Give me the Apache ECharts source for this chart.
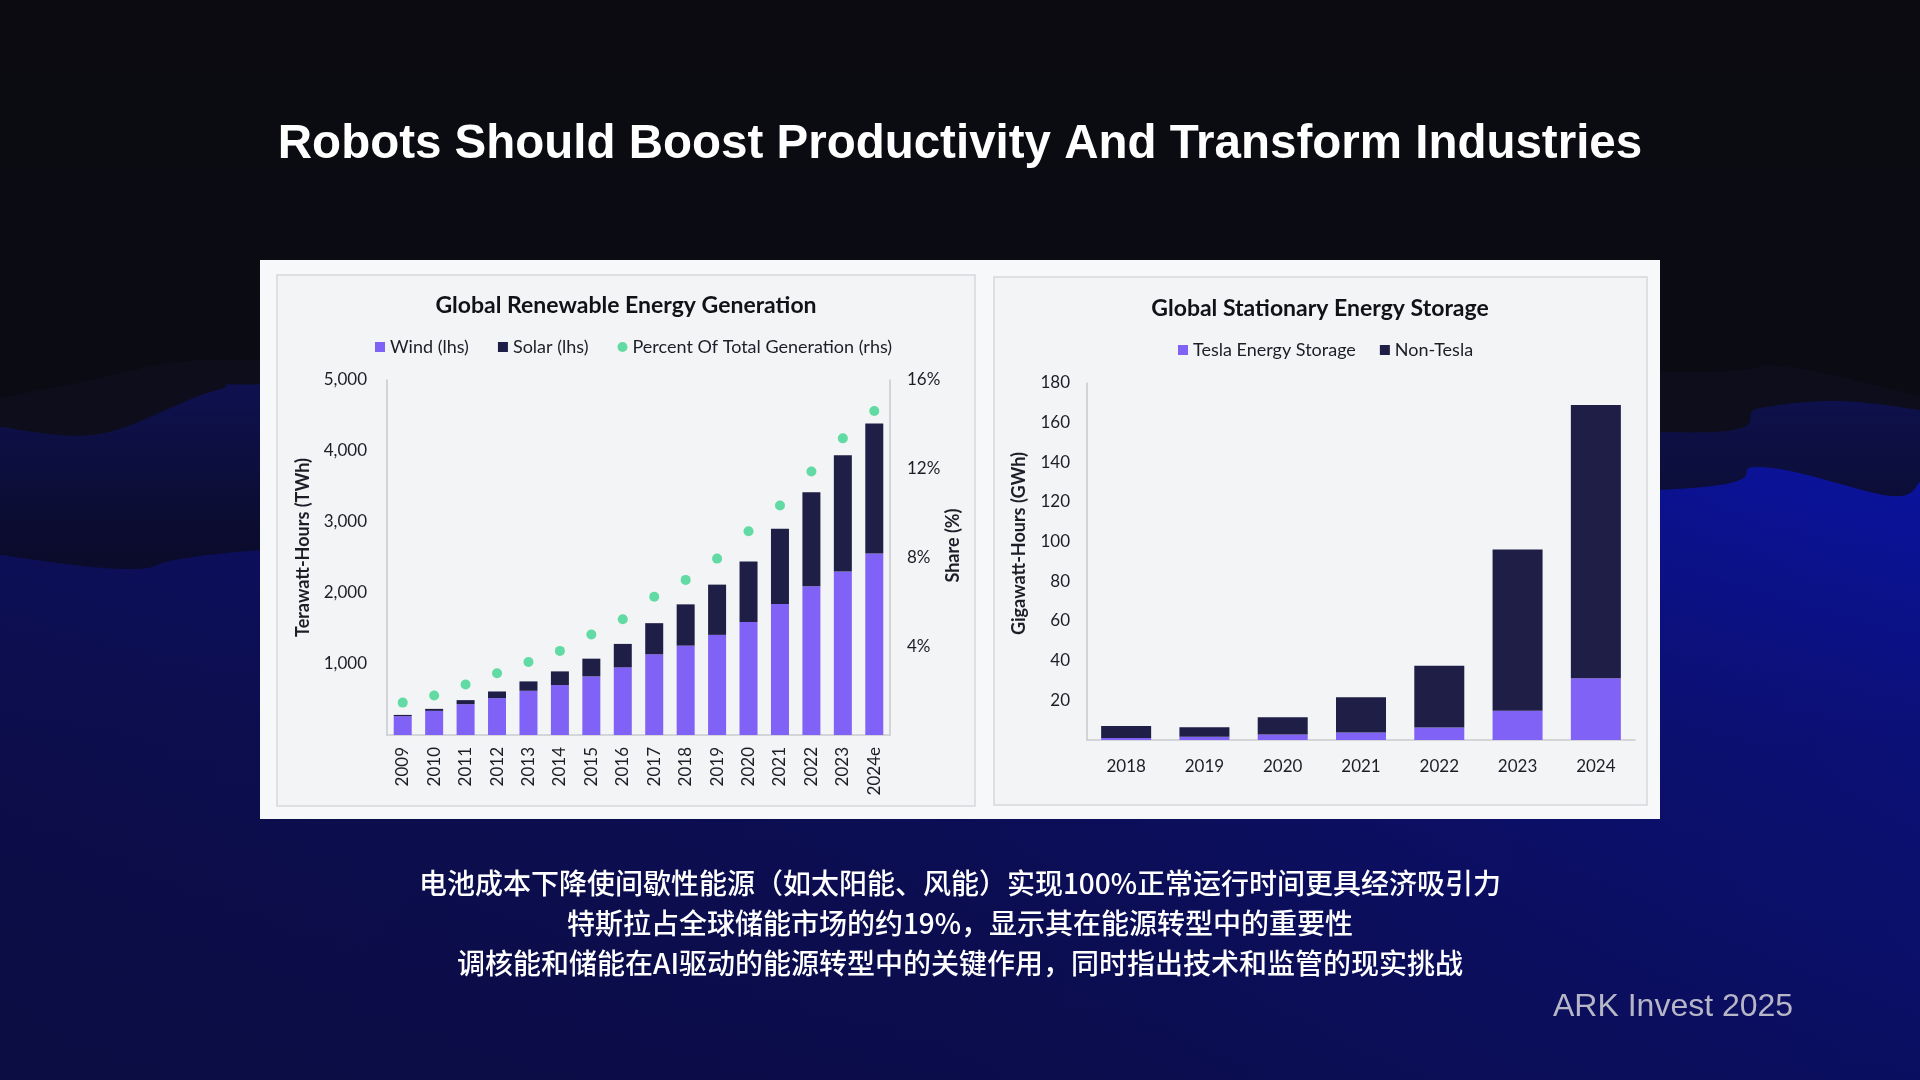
<!DOCTYPE html>
<html>
<head>
<meta charset="utf-8">
<style>
html,body{margin:0;padding:0;background:#0b0b12;}
#c{width:1920px;height:1080px;}
</style>
<script src="https://cdn.jsdelivr.net/npm/echarts@6/dist/echarts.min.js"></script>
</head>
<body>
<div id="c"></div>
<script>
// ---------- data ----------
const genYears = ['2009','2010','2011','2012','2013','2014','2015','2016','2017','2018','2019','2020','2021','2022','2023','2024e'];
const windTWh  = [264, 340, 434, 519, 623, 703, 825, 953, 1137, 1259, 1410, 1590, 1844, 2094, 2302, 2557];
const solarTWh = [19, 28, 57, 94, 132, 193, 250, 330, 438, 581, 708, 853, 1062, 1326, 1637, 1830];
const sharePct = [1.46, 1.78, 2.28, 2.78, 3.29, 3.79, 4.53, 5.22, 6.23, 6.99, 7.95, 9.18, 10.34, 11.88, 13.37, 14.6];

const storYears = ['2018','2019','2020','2021','2022','2023','2024'];
const teslaGWh    = [1.0, 1.7, 2.8, 3.8, 6.3, 14.8, 31.1];
const nonTeslaGWh = [6.1, 4.7, 8.7, 17.8, 31.1, 81.2, 137.8];

const genAxis   = {min: 0, max: 5000, interval: 1000};
const shareAxis = {min: 0, max: 16, interval: 4};
const storAxis  = {min: 0, max: 180, interval: 20};

const mainTitle = 'Robots Should Boost Productivity And Transform Industries';
const notes = [
  '电池成本下降使间歇性能源（如太阳能、风能）实现100%正常运行时间更具经济吸引力',
  '特斯拉占全球储能市场的约19%，显示其在能源转型中的重要性',
  '调核能和储能在AI驱动的能源转型中的关键作用，同时指出技术和监管的现实挑战'
];
const footer = 'ARK Invest 2025';

// ---------- style ----------
const PURPLE = '#8062f7', NAVY = '#1f1e46', GREEN = '#3dd38f';
const TXT = '#1d1d28', AXIS = '#c9cad0';
const F = 'Lato, "Noto Sans", sans-serif';

function lin(x2, y2, stops) {
  return {type: 'linear', x: 0, y: 0, x2: x2, y2: y2, global: false,
          colorStops: stops.map(s => ({offset: s[0], color: s[1]}))};
}
// decorative background wave: smooth top edge through given knots, closed to the bottom
function wave(knots) {
  const pts = [];
  for (let i = 0; i < knots.length - 1; i++) {
    const p0 = knots[Math.max(0, i - 1)], p1 = knots[i], p2 = knots[i + 1], p3 = knots[Math.min(knots.length - 1, i + 2)];
    for (let k = 0; k < 12; k++) {
      const t = k / 12, t2 = t * t, t3 = t2 * t;
      const f = (a, b, c, d) => 0.5 * ((2 * b) + (-a + c) * t + (2 * a - 5 * b + 4 * c - d) * t2 + (-a + 3 * b - 3 * c + d) * t3);
      pts.push([f(p0[0], p1[0], p2[0], p3[0]), f(p0[1], p1[1], p2[1], p3[1])]);
    }
  }
  pts.push(knots[knots.length - 1]);
  pts.push([1920, 1080], [0, 1080]);
  return pts;
}

const chart = echarts.init(document.getElementById('c'), null, {renderer: 'canvas'});

const axisLabel = {color: TXT, fontFamily: F, fontSize: 17};
const nameStyle = (shift) => ({color: TXT, fontFamily: F, fontSize: 18, fontWeight: 'bold', padding: [0, 0, 0, shift]});

const option = {
  animation: false,
  backgroundColor: '#0b0b12',
  graphic: [
    // background
    {type: 'rect', z: -30, shape: {x: 0, y: 0, width: 1920, height: 1080},
     style: {fill: lin(0, 1, [[0, '#0b0b11'], [0.45, '#0b0b14'], [1, '#0b0b2a']])}},
    {type: 'polygon', z: -29, shape: {points: wave([[0, 398], [90, 380], [180, 362], [300, 360], [960, 360], [1660, 372], [1780, 366], [1920, 396]])},
     style: {fill: '#0d0d1c'}},
    {type: 'polygon', z: -28, shape: {points: wave([[0, 427], [100, 434], [217, 390], [300, 384], [960, 380], [1660, 432], [1760, 408], [1840, 401], [1920, 410]])},
     style: {fill: lin(0, 1, [[0, '#0e1150'], [0.25, '#0b0c2c'], [1, '#0b0b2a']])}},
    {type: 'polygon', z: -27, shape: {points: wave([[0, 555], [133, 569], [260, 550], [960, 500], [1660, 490], [1760, 467], [1890, 496], [1920, 482]])},
     style: {fill: lin(1, 0, [[0, '#0d0f5c'], [0.5, '#0c0f70'], [1, '#0b13a0']])}},
    {type: 'rect', z: -26, shape: {x: 0, y: 460, width: 1920, height: 620},
     style: {fill: lin(0, 1, [[0, 'rgba(11,11,40,0)'], [0.45, 'rgba(11,11,42,0.35)'], [1, 'rgba(11,11,44,0.55)']])}},
    // panels
    {type: 'rect', z: -10, shape: {x: 260, y: 260, width: 1400, height: 559}, style: {fill: '#f7f8fa'}},
    {type: 'rect', z: -9, shape: {x: 277, y: 275, width: 698, height: 531}, style: {fill: '#f3f4f6', stroke: '#d6d7dd', lineWidth: 1.5}},
    {type: 'rect', z: -9, shape: {x: 994, y: 277, width: 653, height: 528}, style: {fill: '#f3f4f6', stroke: '#d6d7dd', lineWidth: 1.5}},
    // texts
    {type: 'text', z: 10, x: 960, y: 145, style: {text: mainTitle, fill: '#ffffff', font: 'bold 47.5px "Liberation Sans", Arial, sans-serif', textAlign: 'center', textVerticalAlign: 'middle'}},
    {type: 'text', z: 10, x: 626, y: 306, style: {text: 'Global Renewable Energy Generation', fill: '#111118', font: 'bold 23px ' + F, textAlign: 'center', textVerticalAlign: 'middle'}},
    {type: 'text', z: 10, x: 1320, y: 309, style: {text: 'Global Stationary Energy Storage', fill: '#111118', font: 'bold 23px ' + F, textAlign: 'center', textVerticalAlign: 'middle'}},
    {type: 'text', z: 10, x: 960, y: 883, style: {text: notes[0], fill: '#ffffff', font: '500 28px "Noto Sans CJK SC", sans-serif', textAlign: 'center', textVerticalAlign: 'middle'}},
    {type: 'text', z: 10, x: 960, y: 923, style: {text: notes[1], fill: '#ffffff', font: '500 28px "Noto Sans CJK SC", sans-serif', textAlign: 'center', textVerticalAlign: 'middle'}},
    {type: 'text', z: 10, x: 960, y: 963, style: {text: notes[2], fill: '#ffffff', font: '500 28px "Noto Sans CJK SC", sans-serif', textAlign: 'center', textVerticalAlign: 'middle'}},
    {type: 'text', z: 10, x: 1553, y: 1007, style: {text: footer, fill: '#b6b6c6', font: '32px "Liberation Sans", Arial, sans-serif', textAlign: 'left', textVerticalAlign: 'middle'}}
  ],
  legend: [
    {left: 370, top: 333, itemWidth: 10, itemHeight: 10, itemGap: 29, selectedMode: false,
     textStyle: {color: TXT, fontFamily: F, fontSize: 18},
     data: [{name: 'Wind (lhs)', icon: 'rect'}, {name: 'Solar (lhs)', icon: 'rect'}, {name: 'Percent Of Total Generation (rhs)', icon: 'circle'}]},
    {left: 1173, top: 336, itemWidth: 10, itemHeight: 10, itemGap: 24, selectedMode: false,
     textStyle: {color: TXT, fontFamily: F, fontSize: 18},
     data: [{name: 'Tesla Energy Storage', icon: 'rect'}, {name: 'Non-Tesla', icon: 'rect'}]}
  ],
  grid: [
    {left: 387, right: 1030, top: 380, bottom: 345},
    {left: 1087, right: 285, top: 383, bottom: 340}
  ],
  xAxis: [
    {type: 'category', gridIndex: 0, data: genYears,
     axisLine: {lineStyle: {color: AXIS, width: 1.5}}, axisTick: {show: false},
     axisLabel: Object.assign({}, axisLabel, {rotate: 90, margin: 12, interval: 0})},
    {type: 'category', gridIndex: 1, data: storYears,
     axisLine: {lineStyle: {color: AXIS, width: 1.5}}, axisTick: {show: false},
     axisLabel: Object.assign({}, axisLabel, {margin: 18, interval: 0})}
  ],
  yAxis: [
    {type: 'value', gridIndex: 0, min: genAxis.min, max: genAxis.max, interval: genAxis.interval,
     name: 'Terawatt-Hours (TWh)', nameLocation: 'middle', nameRotate: 90, nameGap: 75,
     nameTextStyle: nameStyle(20),
     axisLine: {show: true, lineStyle: {color: AXIS, width: 1.5}}, axisTick: {show: false}, splitLine: {show: false},
     axisLabel: Object.assign({}, axisLabel, {margin: 20, formatter: v => v === 0 ? '' : v.toLocaleString('en-US')})},
    {type: 'value', gridIndex: 0, position: 'right', min: shareAxis.min, max: shareAxis.max, interval: shareAxis.interval,
     name: 'Share (%)', nameLocation: 'middle', nameRotate: 90, nameGap: 53,
     nameTextStyle: nameStyle(24),
     axisLine: {show: true, lineStyle: {color: AXIS, width: 1.5}}, axisTick: {show: false}, splitLine: {show: false},
     axisLabel: Object.assign({}, axisLabel, {margin: 17, formatter: v => v === 0 ? '' : v + '%'})},
    {type: 'value', gridIndex: 1, min: storAxis.min, max: storAxis.max, interval: storAxis.interval,
     name: 'Gigawatt-Hours (GWh)', nameLocation: 'middle', nameRotate: 90, nameGap: 59,
     nameTextStyle: nameStyle(36),
     axisLine: {show: true, lineStyle: {color: AXIS, width: 1.5}}, axisTick: {show: false}, splitLine: {show: false},
     axisLabel: Object.assign({}, axisLabel, {margin: 17, formatter: v => v === 0 ? '' : String(v)})}
  ],
  series: [
    {name: 'Wind (lhs)', type: 'bar', stack: 'gen', xAxisIndex: 0, yAxisIndex: 0, barWidth: 18, data: windTWh, itemStyle: {color: PURPLE}},
    {name: 'Solar (lhs)', type: 'bar', stack: 'gen', xAxisIndex: 0, yAxisIndex: 0, barWidth: 18, data: solarTWh, itemStyle: {color: NAVY}},
    {name: 'Percent Of Total Generation (rhs)', type: 'scatter', xAxisIndex: 0, yAxisIndex: 1, symbolSize: 10, data: sharePct, itemStyle: {color: GREEN}},
    {name: 'Tesla Energy Storage', type: 'bar', stack: 'stor', xAxisIndex: 1, yAxisIndex: 2, barWidth: 50, data: teslaGWh, itemStyle: {color: PURPLE}},
    {name: 'Non-Tesla', type: 'bar', stack: 'stor', xAxisIndex: 1, yAxisIndex: 2, barWidth: 50, data: nonTeslaGWh, itemStyle: {color: NAVY}}
  ]
};
chart.setOption(option);
</script>
</body>
</html>
